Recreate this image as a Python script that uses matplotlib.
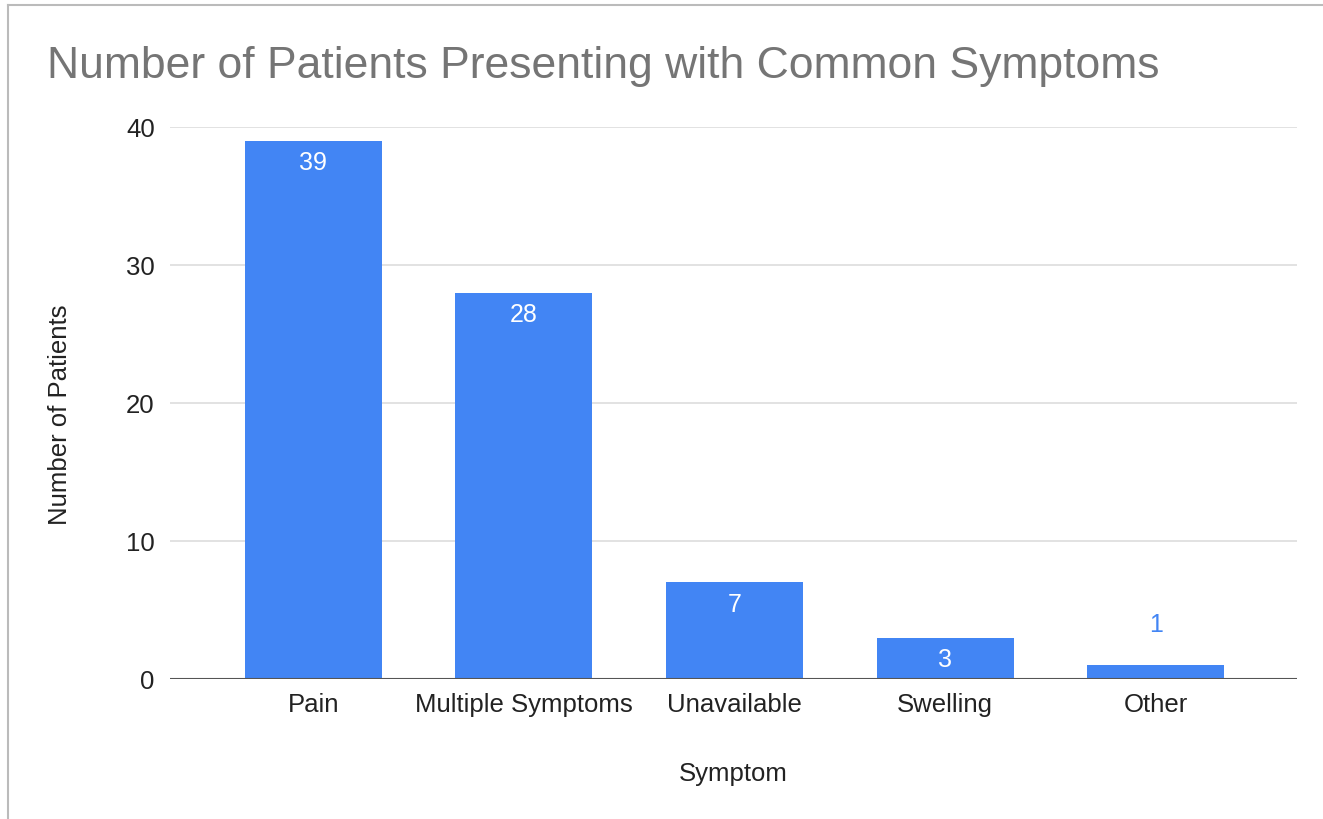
import matplotlib.pyplot as plt
from matplotlib.lines import Line2D

plt.rcParams['font.family'] = ['Liberation Sans', 'DejaVu Sans']

symptoms = ['Pain', 'Multiple Symptoms', 'Unavailable', 'Swelling', 'Other']
patients = [39, 28, 7, 3, 1]
y_ticks = [0, 10, 20, 30, 40]

blue = '#4285F4'

fig = plt.figure(figsize=(13.23, 8.19), dpi=100)
ax = fig.add_axes([0.1285, 0.1709, 0.8518, 0.674])

x = range(len(symptoms))
bars = ax.bar(x, patients, width=0.65, color=blue, zorder=3)

# value labels: inside the bar if tall enough, otherwise above it
for xi, v in zip(x, patients):
    if v >= 3:
        ax.annotate(str(v), (xi, v), xytext=(0, -16), textcoords='offset points',
                    ha='center', va='center', color='white', fontsize=18, zorder=4)
    else:
        ax.annotate(str(v), (xi, v), xytext=(0, 29), textcoords='offset points',
                    ha='center', va='center', color=blue, fontsize=18, zorder=4)

ax.set_xlim(-0.68, 4.67)
ax.set_ylim(0, 40)
ax.set_xticks(list(x))
ax.set_xticklabels(symptoms)
ax.set_yticks(y_ticks)
ax.tick_params(axis='both', length=0, labelsize=18.5, colors='#222222')
ax.tick_params(axis='y', pad=11)
ax.tick_params(axis='x', pad=10)

ax.grid(axis='y', color='#dddddd', linewidth=1.2, zorder=0)
ax.axhline(0, color='#555555', linewidth=1.5, zorder=5)
for s in ax.spines.values():
    s.set_visible(False)

ax.set_ylabel('Number of Patients', fontsize=18.5, color='#222222')
ax.yaxis.set_label_coords(-0.087, 0.478)
ax.set_xlabel('Symptom', fontsize=18.5, color='#222222')
ax.xaxis.set_label_coords(0.5, -0.15)

fig.text(0.0355, 0.9048, 'Number of Patients Presenting with Common Symptoms',
         fontsize=32, color='#757575', ha='left', va='baseline')

# light frame at top and left edge
fig.add_artist(Line2D([8 / 1323, 1], [1 - 5 / 819, 1 - 5 / 819], transform=fig.transFigure,
                      color='#bbbbbb', linewidth=1.5))
fig.add_artist(Line2D([8 / 1323, 8 / 1323], [0, 1 - 5 / 819], transform=fig.transFigure,
                      color='#bbbbbb', linewidth=1.5))

fig.savefig('out.png', dpi=100)
